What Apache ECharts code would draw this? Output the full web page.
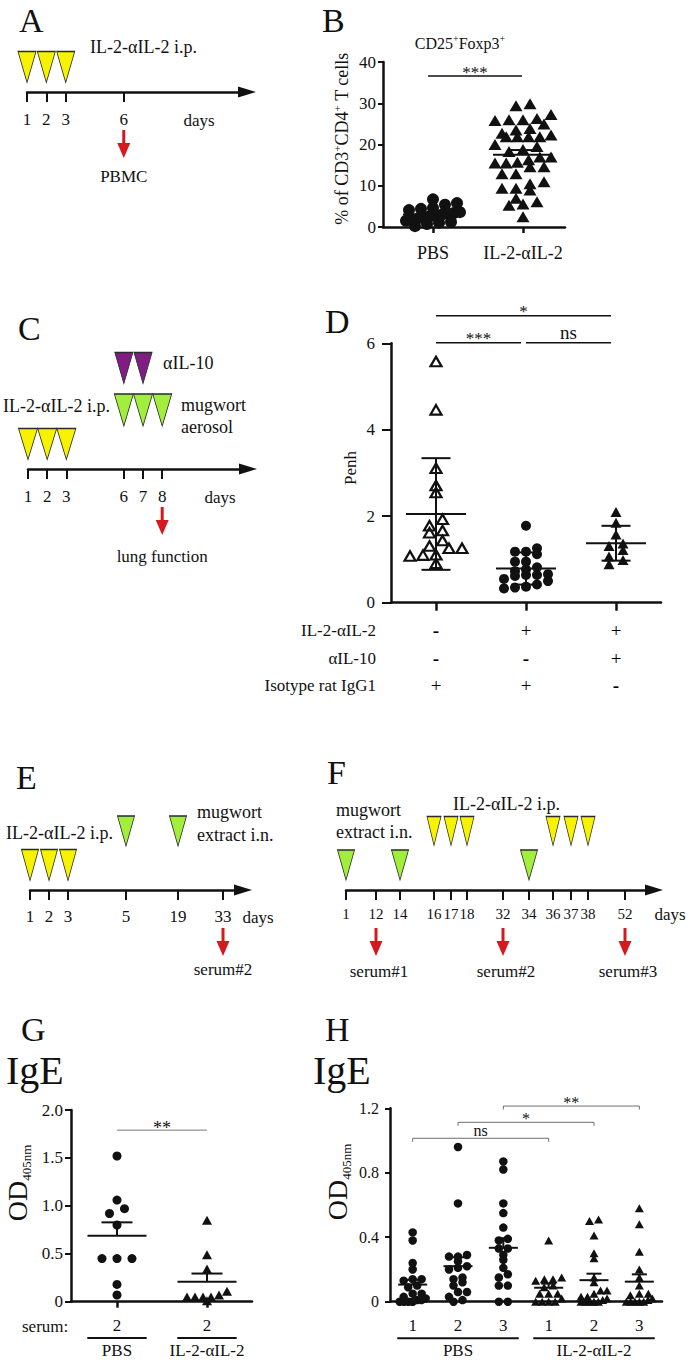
<!DOCTYPE html>
<html>
<head>
<meta charset="utf-8">
<title>Figure</title>
<script src="https://cdn.jsdelivr.net/npm/echarts@6.0.0/dist/echarts.min.js"></script>
<style>
html,body{margin:0;padding:0;background:#ffffff;}
#chart{width:689px;height:1360px;}
</style>
</head>
<body>
<div id="chart"></div>
<script>
// ===================== DATA =====================
// A - treatment timeline
const A_tickDays = [1, 2, 3, 6];
const A_il2Days = [1, 2, 3];
const A_sampleDays = [6];
const A_sampleLabels = ['PBMC'];

// B - CD25+Foxp3+ (% of CD3+CD4+ T cells)
const B_categories = ['PBS', 'IL-2-αIL-2'];
const B_yTicks = [0, 10, 20, 30, 40];
const B_pbs = [6.7, 5.8, 5.4, 4.6, 4.4, 4.1, 3.6, 3.4, 3.2, 3.0, 2.8, 2.6, 2.4, 2.1, 1.8, 1.5, 1.2, 1.0, 0.7, 0.2];
const B_il2 = [29.9, 29.4, 27.3, 26.3, 26.0, 26.0, 25.8, 25.0, 23.9, 23.5, 22.7, 22.3, 21.9, 21.9, 21.9, 21.9,
               20.0, 19.5, 18.8, 18.3, 17.0, 17.0, 16.3, 15.7, 15.5, 15.5, 14.6, 14.6, 12.9, 12.9, 11.0, 10.5,
               9.4, 9.4, 9.0, 7.0, 6.1, 5.6, 5.3, 2.5];
const B_sig = [{from: 0, to: 1, y: 36.6, label: '***'}];

// C - timeline
const C_tickDays = [1, 2, 3, 6, 7, 8];
const C_il2Days = [1, 2, 3];
const C_mugwortDays = [6, 7, 8];
const C_aIL10Days = [6, 7];
const C_sampleDays = [8];
const C_sampleLabels = ['lung function'];

// D - Penh
const D_yTicks = [0, 2, 4, 6];
const D_isotype = [5.58, 4.46, 3.11, 2.71, 2.55, 1.93, 1.78, 1.67, 1.62, 1.44, 1.31, 1.26, 1.26, 1.11, 1.10, 1.08, 0.91];
const D_il2 = [1.78, 1.26, 1.18, 1.18, 1.12, 0.95, 0.95, 0.82, 0.77, 0.73, 0.66, 0.64, 0.64, 0.62, 0.55, 0.50, 0.42, 0.37, 0.35, 0.33];
const D_il2aIL10 = [2.10, 1.85, 1.58, 1.37, 1.31, 1.22, 1.07, 0.99, 0.89];
const D_rowLabels = ['IL-2-αIL-2', 'αIL-10', 'Isotype rat IgG1'];
const D_rowSigns = [['-', '+', '+'], ['-', '-', '+'], ['+', '+', '-']];
const D_sig = [
  {from: 0, to: 2, y: 6.64, label: '*'},
  {from: 0, to: 1, y: 6.01, label: '***'},
  {from: 1, to: 2, y: 6.01, label: 'ns'}
];

// E - timeline
const E_tickDays = [1, 2, 3, 5, 19, 33];
const E_il2Days = [1, 2, 3];
const E_mugwortDays = [5, 19];
const E_sampleDays = [33];
const E_sampleLabels = ['serum#2'];

// F - timeline
const F_tickDays = [1, 12, 14, 16, 17, 18, 32, 34, 36, 37, 38, 52];
const F_mugwortDays = [1, 14, 34];
const F_il2Days = [16, 17, 18, 36, 37, 38];
const F_sampleDays = [12, 32, 52];
const F_sampleLabels = ['serum#1', 'serum#2', 'serum#3'];

// G - IgE OD405nm, serum 2
const G_serum = ['2', '2'];
const G_groupLabels = ['PBS', 'IL-2-αIL-2'];
const G_yTicks = [0, 0.5, 1.0, 1.5, 2.0];
const G_pbs = [1.52, 1.06, 0.97, 0.92, 0.80, 0.45, 0.45, 0.45, 0.18, 0.07];
const G_il2 = [0.85, 0.49, 0.34, 0.11, 0.07, 0.05, 0.05, 0.05, 0.05, 0.01];
const G_sig = [{from: 0, to: 1, y: 1.79, label: '**'}];

// H - IgE OD405nm, sera 1-3
const H_serum = ['1', '2', '3', '1', '2', '3'];
const H_groupLabels = ['PBS', 'IL-2-αIL-2'];
const H_yTicks = [0, 0.4, 0.8, 1.2];
const H_pbs1 = [0.43, 0.38, 0.24, 0.20, 0.14, 0.14, 0.13, 0.10, 0.09, 0.05, 0.05, 0.03, 0.02, 0.01, 0.01, 0.00, 0.00, 0.00, 0.00];
const H_pbs2 = [0.96, 0.61, 0.29, 0.28, 0.28, 0.25, 0.22, 0.21, 0.20, 0.15, 0.14, 0.12, 0.10, 0.06, 0.06, 0.03, 0.01, 0.00];
const H_pbs3 = [0.87, 0.82, 0.61, 0.55, 0.46, 0.39, 0.38, 0.33, 0.33, 0.29, 0.26, 0.21, 0.17, 0.15, 0.10, 0.10, 0.00, 0.00];
const H_il1 = [0.38, 0.15, 0.14, 0.14, 0.13, 0.10, 0.09, 0.05, 0.05, 0.05, 0.02, 0.00, 0.00, 0.00, 0.00];
const H_il2 = [0.51, 0.50, 0.41, 0.30, 0.27, 0.15, 0.12, 0.07, 0.07, 0.05, 0.03, 0.03, 0.02, 0.01, 0.00, 0.00, 0.00, 0.00, 0.00];
const H_il3 = [0.58, 0.48, 0.31, 0.20, 0.15, 0.10, 0.05, 0.05, 0.04, 0.02, 0.01, 0.00, 0.00, 0.00, 0.00, 0.00];
const H_sig = [
  {from: 0, to: 3, y: 1.014, label: 'ns'},
  {from: 1, to: 4, y: 1.113, label: '*'},
  {from: 2, to: 5, y: 1.214, label: '**'}
];

// ===================== STYLE / LAYOUT =====================
const FONT = "'Liberation Serif', 'Times New Roman', serif";
const INK = '#111111';
const RED = '#d41a1f';
const YELLOW = '#f7f300', GREEN = '#a2ee3c', PURPLE = '#7f1d83';
const LANE_UP = {1: 25, 2: 59, 3: 101};   // px above the time axis for each marker lane
const TL_H = 80;
// schematic (non-linear) day placement of the E and F time axes, in px along the axis
const E_dayX = {1: 30, 2: 49, 3: 68, 5: 126, 19: 178, 33: 223};
const F_dayX = {1: 346, 12: 376, 14: 400, 16: 434, 17: 451, 18: 467, 32: 503, 34: 529, 36: 553, 37: 571, 38: 588, 52: 625};

const option = {
  animation: false,
  backgroundColor: '#ffffff',
  textStyle: {fontFamily: FONT, color: INK},
  grid: [], xAxis: [], yAxis: [], series: [], graphic: []
};

function mean(a) { return a.reduce((s, v) => s + v, 0) / a.length; }
function sd(a) { const m = mean(a); return Math.sqrt(a.reduce((s, v) => s + (v - m) * (v - m), 0) / (a.length - 1)); }
function sem(a) { return sd(a) / Math.sqrt(a.length); }

function addGrid(g, xa, ya) {
  option.grid.push(Object.assign({containLabel: false}, g));
  const i = option.grid.length - 1;
  xa.gridIndex = i; ya.gridIndex = i;
  option.xAxis.push(xa); option.yAxis.push(ya);
  return i;
}

function txt(x, y, text, size, extra) {
  option.graphic.push({type: 'text', x: x, y: y, silent: true,
    style: Object.assign({text: text, fontFamily: FONT, fontSize: size, fill: INK, align: 'left', verticalAlign: 'middle'}, extra || {})});
}

function textEl(x, y, text, size, align, extra) {
  return {type: 'text', x: x, y: y, silent: true,
    style: Object.assign({text: text, fontFamily: FONT, fontSize: size, fill: INK, opacity: 1, align: align || 'center', verticalAlign: 'middle'}, extra || {})};
}

// ---------- timelines ----------
function addTimeline(t) {
  const ticks = t.days.map(t.pos);
  const lab = {};
  t.days.forEach(d => { lab[Number(t.pos(d)).toFixed(3)] = String(d); });
  const gi = addGrid({left: t.left, top: t.axisY - TL_H, width: t.right - t.left, height: TL_H},
    {type: 'value', min: t.min, max: t.max,
     axisLine: {show: true, onZero: false, symbol: ['none', 'triangle'], symbolSize: [11, 18], lineStyle: {color: INK, width: 2.5}},
     axisTick: {show: true, customValues: ticks, length: 10, lineStyle: {color: INK, width: 2}},
     axisLabel: {show: true, customValues: ticks, formatter: v => lab[Number(v).toFixed(3)] || '', margin: t.margin,
                 fontFamily: FONT, fontSize: t.labelSize || 17, color: INK},
     splitLine: {show: false}},
    {type: 'value', min: 0, max: TL_H, show: false});
  t.lanes.forEach(l => {
    option.series.push({type: 'scatter', xAxisIndex: gi, yAxisIndex: gi, silent: true, clip: false,
      symbol: 'triangle', symbolRotate: 180, symbolSize: l.size,
      itemStyle: {color: l.color, borderColor: '#2a2a2a', borderWidth: 1, opacity: 1},
      emphasis: {disabled: true},
      data: l.days.map(d => [t.pos(d), LANE_UP[l.lane]])});
  });
  option.series.push({type: 'custom', xAxisIndex: gi, yAxisIndex: gi, silent: true, clip: false,
    data: t.samples.map(d => [t.pos(d), 0]),
    renderItem: (params, api) => {
      const p = api.coord([api.value(0), 0]);
      const lbl = t.sampleLabels[params.dataIndex];
      return {type: 'group', children: [
        {type: 'line', shape: {x1: p[0], y1: p[1] + 38, x2: p[0], y2: p[1] + 53}, style: {stroke: RED, lineWidth: 3}},
        {type: 'polygon', shape: {points: [[p[0] - 6.5, p[1] + 51], [p[0] + 6.5, p[1] + 51], [p[0], p[1] + 66]]}, style: {fill: RED}},
        textEl(p[0] + (t.labelDx || 0), p[1] + t.labelDy, lbl, 17)
      ]};
    }});
  return gi;
}

addTimeline({axisY: 92, left: 27, right: 247, min: 1, max: 1 + 220 / 19.35, pos: d => d, margin: 19,
  days: A_tickDays, samples: A_sampleDays, sampleLabels: A_sampleLabels, labelDy: 84,
  lanes: [{days: A_il2Days, lane: 1, color: YELLOW, size: [18, 31]}]});

addTimeline({axisY: 469, left: 28, right: 248, min: 1, max: 1 + 220 / 19.17, pos: d => d, margin: 19,
  days: C_tickDays, samples: C_sampleDays, sampleLabels: C_sampleLabels, labelDy: 87,
  lanes: [{days: C_il2Days, lane: 1, color: YELLOW, size: [19, 31]},
          {days: C_mugwortDays, lane: 2, color: GREEN, size: [19, 32]},
          {days: C_aIL10Days, lane: 3, color: PURPLE, size: [18, 31]}]});

addTimeline({axisY: 890, left: 30, right: 243, min: 30, max: 243, pos: d => E_dayX[d], margin: 18,
  days: E_tickDays, samples: E_sampleDays, sampleLabels: E_sampleLabels, labelDy: 79,
  lanes: [{days: E_il2Days, lane: 1, color: YELLOW, size: [17, 31]},
          {days: E_mugwortDays, lane: 2, color: GREEN, size: [17, 30]}]});

addTimeline({axisY: 890, left: 346, right: 654, min: 346, max: 654, pos: d => F_dayX[d], margin: 16, labelSize: 15,
  days: F_tickDays, samples: F_sampleDays, sampleLabels: F_sampleLabels, labelDy: 81, labelDx: 3,
  lanes: [{days: F_mugwortDays, lane: 1, color: GREEN, size: [17, 30]},
          {days: F_il2Days, lane: 2, color: YELLOW, size: [14, 29]}]});

// ---------- dot plots ----------
function swarm(values, c) {
  const rows = {};
  const order = values.map((v, i) => i).sort((a, b) => values[a] - values[b]);
  order.forEach(i => { const r = Math.round(values[i] * c.pyu / c.rowPx); (rows[r] = rows[r] || []).push(i); });
  const off = new Array(values.length).fill(0);
  Object.keys(rows).forEach(k => {
    const idx = rows[k]; const n = idx.length;
    if (n < 2) return;
    const d = Math.min(c.step, 2 * c.maxHalf / (n - 1));
    idx.forEach((i, j) => { off[i] = (j - (n - 1) / 2) * d / c.pxu; });
  });
  return off;
}

function addDotPanel(p) {
  const yt = p.yTicks;
  const gi = addGrid(p.grid,
    {type: 'value', min: p.xMin, max: p.xMax,
     axisLine: {show: true, onZero: false, lineStyle: {color: INK, width: 2.5}},
     axisTick: {show: !!p.xTickLen, customValues: p.groupX, length: p.xTickLen || 0, lineStyle: {color: INK, width: 2.5}},
     axisLabel: {show: !!p.xLabels, customValues: p.groupX, formatter: v => (p.xLabels ? p.xLabels[Math.round(v)] : ''),
                 margin: p.xLabelMargin, fontFamily: FONT, fontSize: p.xLabelSize, color: INK},
     splitLine: {show: false}},
    {type: 'value', min: yt[0], max: yt[yt.length - 1], interval: yt[1] - yt[0],
     name: p.yName, nameLocation: 'middle', nameGap: p.nameGap, nameRotate: 90,
     nameTextStyle: p.nameStyle,
     axisLine: {show: true, onZero: false, lineStyle: {color: INK, width: 2.5}},
     axisTick: {show: true, length: p.yTickLen, lineStyle: {color: INK, width: 2}},
     axisLabel: {margin: p.yLabelMargin, fontFamily: FONT, fontSize: p.yLabelSize, color: INK, formatter: p.yFmt},
     splitLine: {show: false}});
  const pyu = p.grid.height / (yt[yt.length - 1] - yt[0]);
  const pxu = p.grid.width / (p.xMax - p.xMin);
  p.groups.forEach((g, gIdx) => {
    const off = swarm(g.values, {pyu: pyu, pxu: pxu, rowPx: g.rowPx, step: g.step, maxHalf: g.maxHalf});
    const open = !!g.open;
    option.series.push({type: 'scatter', xAxisIndex: gi, yAxisIndex: gi, silent: true, clip: false,
      symbol: g.symbol, symbolSize: g.size, emphasis: {disabled: true},
      itemStyle: open ? {color: 'rgba(255,255,255,0)', borderColor: INK, borderWidth: 2.2, opacity: 1}
                      : {color: INK, borderWidth: 0, opacity: 1},
      data: g.values.map((v, i) => [gIdx + off[i], v])});
  });
  // mean + error bars
  const st = p.summary;
  const sdata = p.groups.map((g, gIdx) => {
    const m = mean(g.values);
    const e = st.mode === 'sd' ? sd(g.values) : sem(g.values);
    return [gIdx, m, st.mode === 'sd' ? m - e : m, m + e];
  });
  option.series.push({type: 'custom', xAxisIndex: gi, yAxisIndex: gi, silent: true, clip: false, z: 4,
    data: sdata,
    renderItem: (params, api) => {
      const x = api.value(0), m = api.value(1), lo = api.value(2), hi = api.value(3);
      const pm = api.coord([x, m]), ph = api.coord([x, hi]), pl = api.coord([x, lo]);
      const L = (x1, y1, x2, y2) => ({type: 'line', shape: {x1: x1, y1: y1, x2: x2, y2: y2}, style: {stroke: INK, lineWidth: st.lw}});
      const ch = [L(pm[0] - st.meanHalf, pm[1], pm[0] + st.meanHalf, pm[1]),
                  L(pm[0], ph[1], pm[0], pl[1]),
                  L(pm[0] - st.capHalf, ph[1], pm[0] + st.capHalf, ph[1])];
      if (st.mode === 'sd') ch.push(L(pm[0] - st.capHalf, pl[1], pm[0] + st.capHalf, pl[1]));
      return {type: 'group', children: ch};
    }});
  // significance brackets
  const b = p.brackets;
  option.series.push({type: 'custom', xAxisIndex: gi, yAxisIndex: gi, silent: true, clip: false, z: 5,
    data: p.sig.map(s => [s.from, s.to, s.y]),
    renderItem: (params, api) => {
      const s = p.sig[params.dataIndex];
      const p1 = api.coord([api.value(0), api.value(2)]), p2 = api.coord([api.value(1), api.value(2)]);
      const x1 = p1[0] + b.insetL, x2 = p2[0] - b.insetR, y = p1[1];
      const pts = b.drop ? [[x1, y + b.drop], [x1, y], [x2, y], [x2, y + b.drop]] : [[x1, y], [x2, y]];
      const star = s.label.indexOf('*') >= 0;
      return {type: 'group', children: [
        {type: 'polyline', shape: {points: pts}, style: {stroke: b.color, lineWidth: b.width, fill: null}},
        textEl((x1 + x2) / 2, y - (star ? b.starDy : b.nsDy), s.label, star ? b.starSize : b.nsSize)
      ]};
    }});
  // group underline labels
  if (p.spans) {
    const sp = p.spanStyle;
    option.series.push({type: 'custom', xAxisIndex: gi, yAxisIndex: gi, silent: true, clip: false,
      data: p.spans.map(s => [s[0] - sp.pad, s[1] + sp.pad]),
      renderItem: (params, api) => {
        const p1 = api.coord([api.value(0), yt[0]]), p2 = api.coord([api.value(1), yt[0]]);
        return {type: 'group', children: [
          {type: 'line', shape: {x1: p1[0], y1: p1[1] + sp.lineDy, x2: p2[0], y2: p1[1] + sp.lineDy}, style: {stroke: INK, lineWidth: 2}},
          textEl((p1[0] + p2[0]) / 2, p1[1] + sp.textDy, p.spanLabels[params.dataIndex], 17)
        ]};
      }});
  }
  return gi;
}

// B
addDotPanel({
  grid: {left: 383, top: 62, width: 182, height: 165},
  xMin: -0.5556, xMax: 1.4667, groupX: [0, 1], xTickLen: 6, xLabels: B_categories, xLabelMargin: 17, xLabelSize: 18,
  yTicks: B_yTicks, yTickLen: 5, yLabelMargin: 7, yLabelSize: 17, yFmt: v => String(v),
  yName: '% of CD3{s|+}CD4{s|+} T cells', nameGap: 30,
  nameStyle: {fontFamily: FONT, fontSize: 18, lineHeight: 22, color: INK, padding: [0, 0, 0, 12],
              rich: {s: {fontFamily: FONT, fontSize: 11, lineHeight: 12, verticalAlign: 'top', color: INK}}},
  groups: [
    {values: B_pbs, symbol: 'circle', size: 12, rowPx: 10, step: 12, maxHalf: 27},
    {values: B_il2, symbol: 'triangle', size: [13, 11], rowPx: 11, step: 14, maxHalf: 28}
  ],
  summary: {mode: 'sem', lw: 2, meanHalf: 30, capHalf: 13.5},
  sig: B_sig, brackets: {color: INK, width: 1.5, drop: 0, insetL: -5, insetR: 1, starDy: 3.5, nsDy: 10, starSize: 17, nsSize: 18}
});

// D
const D_grid = addDotPanel({
  grid: {left: 391, top: 343.3, width: 270, height: 259.4},
  xMin: -0.5, xMax: 2.5, groupX: [0, 1, 2], xTickLen: 8, xLabels: null, xLabelMargin: 10, xLabelSize: 17,
  yTicks: D_yTicks, yTickLen: 9, yLabelMargin: 16, yLabelSize: 17, yFmt: v => String(v),
  yName: 'Penh', nameGap: 31,
  nameStyle: {fontFamily: FONT, fontSize: 17, lineHeight: 20, color: INK, padding: [0, 0, 0, 10]},
  groups: [
    {values: D_isotype, symbol: 'triangle', size: [11, 9.5], open: true, rowPx: 10, step: 13, maxHalf: 28},
    {values: D_il2, symbol: 'circle', size: 10, rowPx: 9, step: 11, maxHalf: 28},
    {values: D_il2aIL10, symbol: 'triangle', size: [11, 10], rowPx: 10, step: 14, maxHalf: 28}
  ],
  summary: {mode: 'sd', lw: 2, meanHalf: 30, capHalf: 14.5},
  sig: D_sig, brackets: {color: INK, width: 1.5, drop: 0, insetL: 0, insetR: 5, starDy: 4.5, nsDy: 10, starSize: 17, nsSize: 19}
});
// D treatment table under the axis
option.series.push({type: 'custom', xAxisIndex: D_grid, yAxisIndex: D_grid, silent: true, clip: false,
  data: D_rowSigns.reduce((acc, row, r) => acc.concat(row.map((s, g) => [g, r])), []),
  renderItem: (params, api) => {
    const g = api.value(0), r = api.value(1);
    const p = api.coord([g, 0]);
    const sgn = D_rowSigns[r][g];
    return {type: 'group', children: [
      textEl(p[0], p[1] + 28 + 27.5 * r, sgn, 19, 'center', {fontWeight: sgn === '-' ? 'bold' : 'normal', fill: '#000000'})
    ]};
  }});
option.series.push({type: 'custom', xAxisIndex: D_grid, yAxisIndex: D_grid, silent: true, clip: false,
  data: D_rowLabels.map((l, r) => [r, 0]),
  renderItem: (params, api) => {
    const p = api.coord([-0.5, 0]);
    return {type: 'group', children: [
      textEl(p[0] - 15, p[1] + 28 + 27.5 * api.value(0), D_rowLabels[params.dataIndex], 17, 'right')
    ]};
  }});

// G
addDotPanel({
  grid: {left: 71, top: 1110, width: 181, height: 191.7},
  xMin: -0.511, xMax: 1.5, groupX: [0, 1], xTickLen: 6, xLabels: G_serum, xLabelMargin: 15, xLabelSize: 17,
  yTicks: G_yTicks, yTickLen: 6, yLabelMargin: 8, yLabelSize: 17, yFmt: v => (v === 0 ? '0' : v.toFixed(1)),
  yName: 'OD{b|405nm}', nameGap: 38,
  nameStyle: {fontFamily: FONT, fontSize: 28, lineHeight: 32, color: INK, padding: [0, 0, 0, 46],
              rich: {b: {fontFamily: FONT, fontSize: 13, lineHeight: 13, verticalAlign: 'bottom', color: INK}}},
  groups: [
    {values: G_pbs, symbol: 'circle', size: 9, rowPx: 9, step: 15, maxHalf: 25},
    {values: G_il2, symbol: 'triangle', size: [10, 9], rowPx: 9, step: 11, maxHalf: 20}
  ],
  summary: {mode: 'sem', lw: 2, meanHalf: 29.5, capHalf: 15.5},
  sig: G_sig, brackets: {color: '#7a7a7a', width: 1, drop: 0, insetL: 0, insetR: 0, starDy: 2.5, nsDy: 8, starSize: 18, nsSize: 16},
  spans: [[0, 0], [1, 1]], spanLabels: G_groupLabels, spanStyle: {pad: 0.33, lineDy: 36.3, textDy: 48.5}
});

// H
addDotPanel({
  grid: {left: 390, top: 1108.3, width: 272, height: 193.4},
  xMin: -0.5, xMax: 5.5, groupX: [0, 1, 2, 3, 4, 5], xTickLen: 0, xLabels: H_serum, xLabelMargin: 15, xLabelSize: 17,
  yTicks: H_yTicks, yTickLen: 5, yLabelMargin: 11, yLabelSize: 16, yFmt: v => (v === 0 ? '0' : v.toFixed(1)),
  yName: 'OD{b|405nm}', nameGap: 37,
  nameStyle: {fontFamily: FONT, fontSize: 28, lineHeight: 32, color: INK, padding: [0, 0, 0, 46],
              rich: {b: {fontFamily: FONT, fontSize: 13, lineHeight: 13, verticalAlign: 'bottom', color: INK}}},
  groups: [
    {values: H_pbs1, symbol: 'circle', size: 8.5, rowPx: 8, step: 9, maxHalf: 13},
    {values: H_pbs2, symbol: 'circle', size: 8.5, rowPx: 8, step: 9, maxHalf: 13},
    {values: H_pbs3, symbol: 'circle', size: 8.5, rowPx: 8, step: 9, maxHalf: 13},
    {values: H_il1, symbol: 'triangle', size: [9, 8], rowPx: 8, step: 9, maxHalf: 13},
    {values: H_il2, symbol: 'triangle', size: [9, 8], rowPx: 8, step: 9, maxHalf: 13},
    {values: H_il3, symbol: 'triangle', size: [9, 8], rowPx: 8, step: 9, maxHalf: 13}
  ],
  summary: {mode: 'sem', lw: 2, meanHalf: 14.5, capHalf: 7.5},
  sig: H_sig, brackets: {color: '#6e6e6e', width: 1, drop: 3.5, insetL: 0, insetR: 0, starDy: 3.4, nsDy: 7.3, starSize: 16, nsSize: 16},
  spans: [[0, 2], [3, 5]], spanLabels: H_groupLabels, spanStyle: {pad: 0.34, lineDy: 36.6, textDy: 48.5}
});

// ---------- free text ----------
const LET = 34;
txt(19, 20, 'A', LET); txt(322, 20, 'B', LET); txt(18, 328, 'C', LET); txt(325, 321, 'D', LET);
txt(16, 777, 'E', LET); txt(327, 772, 'F', LET); txt(21, 1029, 'G', LET); txt(325, 1029, 'H', LET);
txt(6, 1070, 'IgE', 40); txt(313, 1070, 'IgE', 40);

txt(460, 43, 'CD25{s|+}Foxp3{s|+}', 16, {align: 'center', lineHeight: 20,
  rich: {s: {fontFamily: FONT, fontSize: 10, lineHeight: 11, verticalAlign: 'top', fill: INK}}});

// timeline annotations
txt(90, 47, 'IL-2-αIL-2 i.p.', 18);
txt(163, 363, 'αIL-10', 18);
txt(181, 405, 'mugwort', 18); txt(181, 427, 'aerosol', 18);
txt(3, 406, 'IL-2-αIL-2 i.p.', 18);
txt(6, 833, 'IL-2-αIL-2 i.p.', 18);
txt(197, 812, 'mugwort', 18); txt(197, 835, 'extract i.n.', 18);
txt(336, 810, 'mugwort', 18); txt(336, 832, 'extract i.n.', 18);
txt(453, 804, 'IL-2-αIL-2 i.p.', 18);
txt(199, 120, 'days', 17, {align: 'center'});
txt(220, 497, 'days', 17, {align: 'center'});
txt(258, 917, 'days', 17, {align: 'center'});
txt(670, 914, 'days', 17, {align: 'center'});
txt(22, 1326, 'serum:', 17);

const chart = echarts.init(document.getElementById('chart'), null, {renderer: 'svg', width: 689, height: 1360});
chart.setOption(option);
</script>
</body>
</html>
